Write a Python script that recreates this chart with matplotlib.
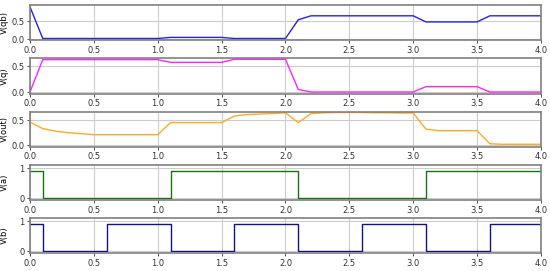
import numpy as np
import matplotlib
matplotlib.use('Agg')
import matplotlib.pyplot as plt

plt.rcParams.update({'font.size': 6})

# -------------------------------------------------------------------------------
# transient samples, every 0.1 from 0.0 to 4.0
t = np.round(np.arange(0, 41) * 0.1, 1)

v_qb = [0.90] + [0.02]*10 + [0.05]*5 + [0.02]*5 + [0.54] + [0.65]*9 \
       + [0.48]*5 + [0.65]*5
v_q = [0.00] + [0.633]*10 + [0.58]*5 + [0.64]*5 + [0.05] + [0.00]*9 \
      + [0.105]*5 + [0.00]*5
v_out = [0.46, 0.33, 0.28, 0.25, 0.23, 0.21, 0.21, 0.21, 0.21, 0.21, 0.21,
         0.45, 0.45, 0.45, 0.45, 0.45, 0.58, 0.61, 0.62, 0.63, 0.645,
         0.45, 0.63, 0.645, 0.65, 0.65, 0.65, 0.645, 0.645, 0.64, 0.64,
         0.32, 0.29, 0.29, 0.29, 0.29, 0.03, 0.02, 0.02, 0.02, 0.02]

# digital inputs: switching times and levels
a_edges = [0.0, 0.1, 1.1, 2.1, 3.1, 4.0]
a_levels = [0.9, 0.0, 0.9, 0.0, 0.9]
b_edges = [0.0, 0.1, 0.6, 1.1, 1.6, 2.1, 2.6, 3.1, 3.6, 4.0]
b_levels = [0.9, 0.0, 0.9, 0.0, 0.9, 0.0, 0.9, 0.0, 0.9]

# -------------------------------------------------------------------------------

def step_xy(edges, levels):
    xs, ys = [], []
    for i, lv in enumerate(levels):
        xs += [edges[i], edges[i+1]]
        ys += [lv, lv]
    return xs, ys

fig, axes = plt.subplots(5, 1, figsize=(5.5, 2.71), dpi=100)
fig.subplots_adjust(left=0.0545, right=0.9836, top=0.9815, bottom=0.0653, hspace=0.51)

ax = axes[0]
ax.plot(t, v_qb, color='#2222ee', lw=1.0)
ax.set_ylim(-0.03, 0.95)
ax.set_yticks([0.0, 0.5])
ax.set_ylabel('V(qb)')

ax = axes[1]
ax.plot(t, v_q, color='#ff22ff', lw=1.0)
ax.set_ylim(-0.03, 0.66)
ax.set_yticks([0.0, 0.5])
ax.set_ylabel('V(q)')

ax = axes[2]
ax.plot(t, v_out, color='#ffaa22', lw=1.0)
ax.set_ylim(-0.03, 0.67)
ax.set_yticks([0.0, 0.5])
ax.set_ylabel('V(out)')

ax = axes[3]
xs, ys = step_xy(a_edges, a_levels)
ax.plot(xs, ys, color='#117711', lw=1.0)
ax.set_ylim(-0.06, 1.11)
ax.set_yticks([0, 1])
ax.set_ylabel('V(a)')

ax = axes[4]
xs, ys = step_xy(b_edges, b_levels)
ax.plot(xs, ys, color='#111188', lw=1.0)
ax.set_ylim(-0.07, 1.11)
ax.set_yticks([0, 1])
ax.set_ylabel('V(b)')

for ax in axes:
    ax.set_xlim(0, 4)
    ax.set_xticks(np.arange(0, 4.01, 0.5))
    ax.grid(True, color='#cccccc', lw=0.8)
    for s in ax.spines.values():
        s.set_color('#808080')
        s.set_linewidth(1.2)
    ax.tick_params(length=2.5, width=0.6, pad=1.5, colors='#333333')
    ax.yaxis.set_label_coords(-0.041, 0.5)

plt.savefig('out.png', dpi=100)
